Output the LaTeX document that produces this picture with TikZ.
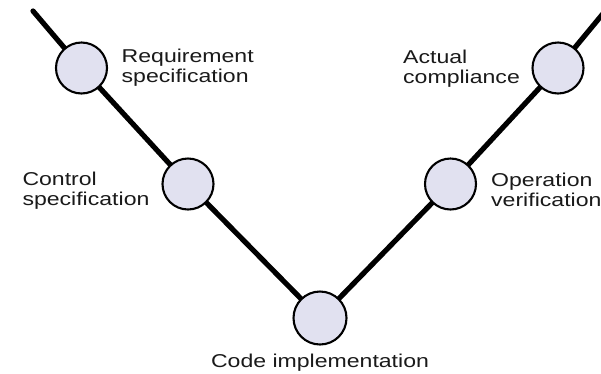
\documentclass[tikz,border=0pt]{standalone}
\usepackage{fontspec}
\usetikzlibrary{backgrounds}
\newfontfamily\labelfont[FakeStretch=1.24]{Liberation Sans}
\definecolor{stagefill}{HTML}{E1E1F0}
\definecolor{labeltext}{HTML}{1A1A1A}
\begin{document}
\begin{tikzpicture}[x=1pt,y=-1pt,
    stage/.style={circle,draw=black,line width=2.1pt,fill=stagefill,
      minimum size=51pt,inner sep=0pt},
    stagebig/.style={stage,minimum size=53pt},
    vline/.style={line width=5.2pt,line cap=round},
    lab/.style={inner sep=0pt,text=labeltext,align=left,
      font=\labelfont\fontsize{18.6}{20}\selectfont}]
  \useasboundingbox (0,0) rectangle (601,373);

  % stages of the V
  \coordinate (start) at (33,11);
  \coordinate (finish) at (606,10);
  \node[stage] (req) at (81.5,68) {};
  \node[stage] (ctrl) at (188,184) {};
  \node[stagebig] (code) at (320,318) {};
  \node[stage] (oper) at (450.5,184) {};
  \node[stage] (act) at (558,68) {};

  % white page and the V line, behind the stages
  \begin{pgfonlayer}{background}
    \begin{scope}
      \clip (0,0) rectangle (601,373);
      \fill[white] (0,0) rectangle (601,373);
      \draw[vline] (start) -- (req.center) -- (ctrl.center) -- (code.center)
        -- (oper.center) -- (act.center) -- (finish);
    \end{scope}
  \end{pgfonlayer}

  % labels (anchored on the baseline of the last line)
  \node[lab,anchor=base west] (reqlab) at (121.5,82) {Requirement\\specification};
  \node[lab,anchor=base west] (ctrllab) at (22.3,205) {Control\\specification};
  \node[lab,anchor=base west] (actlab) at (403,83) {Actual\\compliance};
  \node[lab,anchor=base west] (operlab) at (491,206) {Operation\\verification};
  \node[lab,anchor=base] (codelab) at (320,367) {Code implementation};
\end{tikzpicture}
\end{document}
